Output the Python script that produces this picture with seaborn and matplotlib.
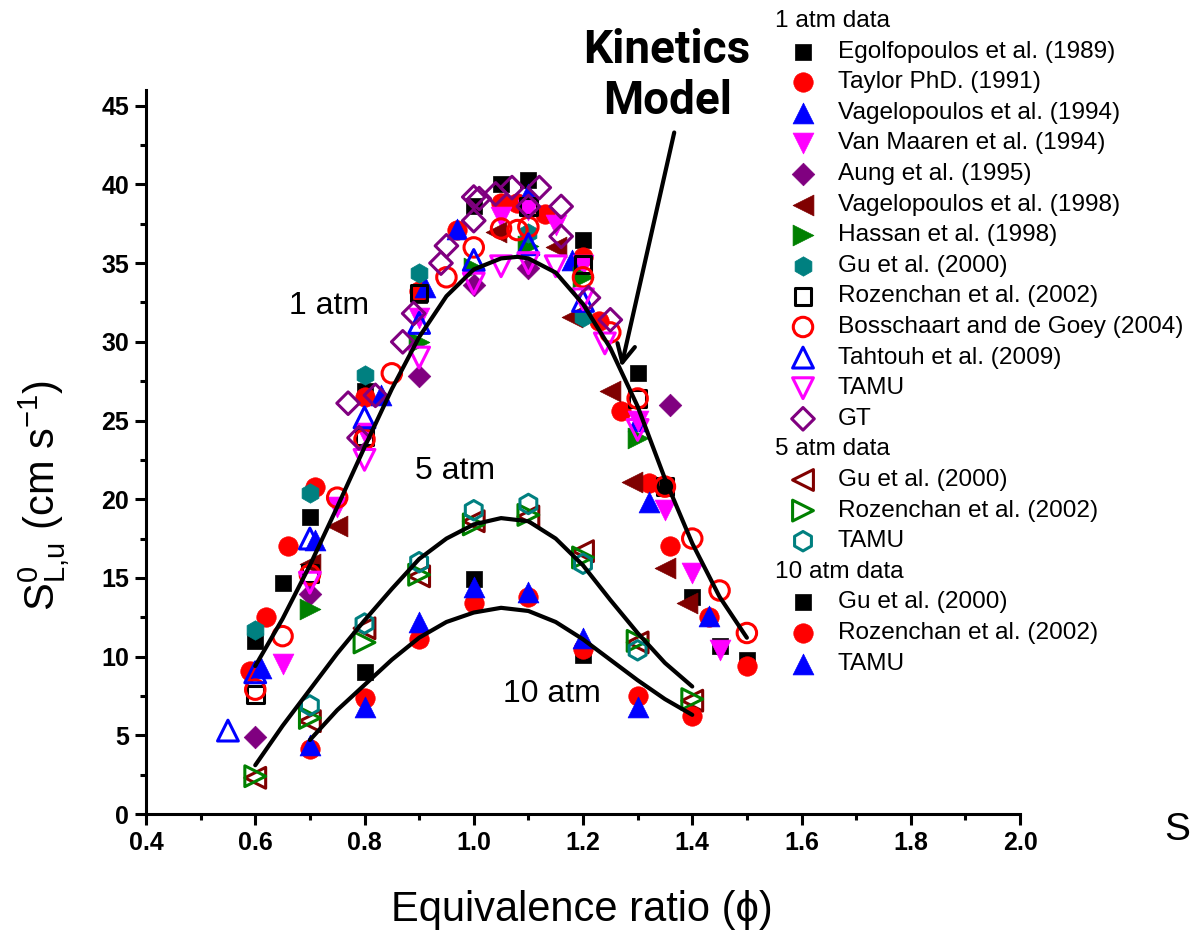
import numpy as np
import pandas as pd
import seaborn as sns
import matplotlib.pyplot as plt
from matplotlib.ticker import MultipleLocator

# ---------------- 1 atm data ----------------
egolf_x = [0.6, 0.65, 0.7, 0.8, 0.9, 1.0, 1.05, 1.1, 1.2, 1.3, 1.35, 1.4, 1.45, 1.5]
egolf_y = [11.0, 14.7, 18.9, 26.9, 33.0, 38.6, 40.0, 40.3, 36.5, 28.0, 20.8, 13.8, 10.7, 9.8]
taylor_x = [0.59, 0.62, 0.66, 0.71, 0.8, 0.9, 0.97, 1.05, 1.08, 1.13, 1.2, 1.23, 1.27, 1.32, 1.36, 1.43, 1.5]
taylor_y = [9.1, 12.5, 17.0, 20.8, 26.5, 33.2, 37.1, 38.8, 38.8, 38.1, 35.4, 31.3, 25.6, 21.0, 17.0, 12.5, 9.4]
vag94_x = [0.61, 0.71, 0.83, 0.91, 0.97, 1.1, 1.18, 1.3, 1.32, 1.43]
vag94_y = [9.3, 17.4, 26.6, 33.5, 37.2, 39.4, 35.2, 25.0, 19.8, 12.6]
vanmaaren_x = [0.65, 0.75, 0.8, 0.9, 1.05, 1.1, 1.15, 1.2, 1.3, 1.35, 1.4, 1.45]
vanmaaren_y = [9.5, 19.5, 24.2, 31.5, 37.9, 38.4, 37.4, 34.9, 25.0, 19.3, 15.3, 10.4]
aung_x = [0.6, 0.7, 0.9, 1.0, 1.1, 1.36]
aung_y = [4.9, 14.0, 27.8, 33.6, 34.7, 26.0]
vag98_x = [0.7, 0.75, 1.04, 1.15, 1.18, 1.25, 1.29, 1.35, 1.39]
vag98_y = [15.9, 18.3, 37.0, 36.0, 31.6, 26.9, 21.1, 15.6, 13.4]
hassan_x = [0.7, 0.9, 1.0, 1.1, 1.2, 1.3]
hassan_y = [13.0, 30.0, 34.7, 36.1, 34.1, 23.9]
gu1_x = [0.6, 0.7, 0.8, 0.9, 1.1, 1.2]
gu1_y = [11.7, 20.4, 27.9, 34.4, 36.9, 31.6]
rozen1_x = [0.6, 0.7, 0.8, 0.9, 1.1, 1.2, 1.3, 1.35]
rozen1_y = [7.6, 15.3, 24.0, 33.1, 38.6, 34.9, 26.4, 20.8]
bossch_x = [0.6, 0.65, 0.7, 0.75, 0.8, 0.85, 0.95, 1.0, 1.05, 1.08, 1.1, 1.2, 1.25, 1.3, 1.35, 1.4, 1.45, 1.5]
bossch_y = [7.9, 11.3, 15.2, 20.1, 23.8, 28.0, 34.1, 36.0, 37.2, 37.1, 37.3, 34.1, 30.6, 26.4, 20.8, 17.5, 14.2, 11.5]
tahtouh_x = [0.55, 0.6, 0.7, 0.8, 0.9, 1.0, 1.1, 1.2]
tahtouh_y = [5.3, 9.0, 17.5, 25.2, 31.2, 35.2, 36.2, 32.6]
tamu1_x = [0.7, 0.8, 0.9, 1.0, 1.05, 1.1, 1.15, 1.2, 1.24, 1.3]
tamu1_y = [14.7, 22.5, 29.0, 33.7, 34.8, 35.0, 34.8, 32.7, 29.9, 24.4]
gt_x = [0.77, 0.79, 0.82, 0.87, 0.89, 0.94, 0.95, 1.0, 1.0, 1.01, 1.04, 1.07, 1.1, 1.12, 1.16, 1.16, 1.21, 1.25]
gt_y = [26.1, 23.9, 26.6, 30.0, 31.8, 35.0, 36.1, 37.7, 39.2, 39.1, 39.4, 39.8, 38.6, 39.8, 38.6, 36.7, 32.8, 31.4]

# ---------------- 5 atm data ----------------
phi5 = [0.6, 0.7, 0.8, 0.9, 1.0, 1.1, 1.2, 1.3, 1.4]
gu5_y = [2.3, 5.9, 11.8, 15.1, 18.6, 18.9, 16.7, 10.9, 7.2]
rozen5_y = [2.4, 6.1, 10.9, 15.2, 18.4, 19.0, 16.3, 11.0, 7.3]
tamu5_x = [0.7, 0.8, 0.9, 1.0, 1.1, 1.2, 1.3]
tamu5_y = [6.9, 12.1, 16.0, 19.3, 19.7, 15.9, 10.4]

# ---------------- 10 atm data ----------------
gu10_x = [0.8, 1.0, 1.2]
gu10_y = [9.0, 14.9, 10.1]
rozen10_x = [0.7, 0.8, 0.9, 1.0, 1.1, 1.2, 1.3, 1.4]
rozen10_y = [4.1, 7.4, 11.1, 13.4, 13.8, 10.5, 7.5, 6.2]
tamu10_x = [0.7, 0.8, 0.9, 1.0, 1.1, 1.2, 1.3]
tamu10_y = [4.4, 6.8, 12.2, 14.4, 14.1, 11.2, 6.8]

# ---------------- kinetics model ----------------
model1_x = [0.6, 0.65, 0.7, 0.75, 0.8, 0.85, 0.9, 0.95, 1.0, 1.05, 1.08, 1.1, 1.15, 1.2, 1.25, 1.3, 1.35, 1.4, 1.45, 1.5]
model1_y = [9.4, 12.4, 15.8, 19.5, 23.3, 27.0, 30.3, 32.9, 34.6, 35.3, 35.4, 35.3, 34.4, 32.4, 29.6, 25.9, 21.3, 17.2, 13.8, 11.2]
model5_x = [0.6, 0.65, 0.7, 0.75, 0.8, 0.85, 0.9, 0.95, 1.0, 1.05, 1.1, 1.15, 1.2, 1.25, 1.3, 1.35, 1.4]
model5_y = [3.1, 5.6, 7.9, 10.2, 12.3, 14.3, 16.2, 17.5, 18.4, 18.8, 18.6, 17.5, 15.8, 13.6, 11.5, 9.6, 8.1]
model10_x = [0.7, 0.75, 0.8, 0.85, 0.9, 0.95, 1.0, 1.05, 1.1, 1.15, 1.2, 1.25, 1.3, 1.35, 1.4]
model10_y = [4.7, 6.6, 8.2, 9.8, 11.2, 12.2, 12.8, 13.1, 12.9, 12.2, 11.1, 9.8, 8.5, 7.3, 6.3]

groups = [
    ("1 atm data", [
        ("Egolfopoulos et al. (1989)", egolf_x, egolf_y, "s", "black", True),
        ("Taylor PhD. (1991)", taylor_x, taylor_y, "o", "#ff0000", True),
        ("Vagelopoulos et al. (1994)", vag94_x, vag94_y, "^", "#0000ff", True),
        ("Van Maaren et al. (1994)", vanmaaren_x, vanmaaren_y, "v", "#ff00ff", True),
        ("Aung et al. (1995)", aung_x, aung_y, "D", "#800080", True),
        ("Vagelopoulos et al. (1998)", vag98_x, vag98_y, "<", "#800000", True),
        ("Hassan et al. (1998)", hassan_x, hassan_y, ">", "#008000", True),
        ("Gu et al. (2000)", gu1_x, gu1_y, "h", "#008080", True),
        ("Rozenchan et al. (2002)", rozen1_x, rozen1_y, "s", "black", False),
        ("Bosschaart and de Goey (2004)", bossch_x, bossch_y, "o", "#ff0000", False),
        ("Tahtouh et al. (2009)", tahtouh_x, tahtouh_y, "^", "#0000ff", False),
        ("TAMU", tamu1_x, tamu1_y, "v", "#ff00ff", False),
        ("GT", gt_x, gt_y, "D", "#800080", False),
    ]),
    ("5 atm data", [
        ("Gu et al. (2000)", phi5, gu5_y, "<", "#800000", False),
        ("Rozenchan et al. (2002)", phi5, rozen5_y, ">", "#008000", False),
        ("TAMU", tamu5_x, tamu5_y, "h", "#008080", False),
    ]),
    ("10 atm data", [
        ("Gu et al. (2000)", gu10_x, gu10_y, "s", "black", True),
        ("Rozenchan et al. (2002)", rozen10_x, rozen10_y, "o", "#ff0000", True),
        ("TAMU", tamu10_x, tamu10_y, "^", "#0000ff", True),
    ]),
]

msize = {"s": 12, "o": 14, "^": 15, "v": 15, "<": 15, ">": 15, "D": 11.5, "h": 14}

sns.set_style("ticks")
plt.rcParams["font.family"] = ["Liberation Sans", "DejaVu Sans"]
plt.rcParams["mathtext.default"] = "regular"
for key in ["text.color", "axes.labelcolor", "xtick.color", "ytick.color", "axes.edgecolor"]:
    plt.rcParams[key] = "black"


def draw(axis, x, y, marker, color, filled):
    s = msize[marker] ** 2
    if filled:
        sns.scatterplot(x=x, y=y, ax=axis, marker=marker, s=s, color=color,
                        edgecolor=color, linewidth=0.5, clip_on=False)
    else:
        sns.scatterplot(x=x, y=y, ax=axis, marker=marker, s=s, facecolors="none",
                        edgecolor=color, linewidth=2.2, clip_on=False)


W, H = 1190, 934
fig = plt.figure(figsize=(11.9, 9.34), dpi=100)
ax = fig.add_axes([146 / W, 1 - 814 / H, (1020 - 146) / W, (814 - 90) / H])

for header, items in groups:
    for label, x, y, marker, color, filled in items:
        draw(ax, x, y, marker, color, filled)

for mx, my in [(model1_x, model1_y), (model5_x, model5_y), (model10_x, model10_y)]:
    sns.lineplot(x=mx, y=my, ax=ax, color="black", linewidth=3, zorder=10)

ax.set_xlim(0.4, 2.0)
ax.set_ylim(0, 46)
ax.xaxis.set_major_locator(MultipleLocator(0.2))
ax.xaxis.set_minor_locator(MultipleLocator(0.1))
ax.yaxis.set_major_locator(MultipleLocator(5))
ax.yaxis.set_minor_locator(MultipleLocator(2.5))
ax.set_xticklabels([f"{v:.1f}" for v in ax.get_xticks()])
sns.despine(ax=ax)
for sp in ["left", "bottom"]:
    ax.spines[sp].set_linewidth(2.2)
ax.tick_params(which="major", length=8, width=2.2, labelsize=18, pad=4)
ax.tick_params(which="minor", length=4.5, width=2.2)
for t in ax.get_xticklabels() + ax.get_yticklabels():
    t.set_fontweight("bold")

ax.set_xlabel("Equivalence ratio (\u03d5)", fontsize=30)
ax.xaxis.set_label_coords(0.499, -0.105)
ax.set_ylabel(r"$S^{0}_{L{,}u}$ (cm s$^{-1}$)", fontsize=30)
ax.yaxis.set_label_coords(-0.085, 0.44)

ax.text(0.736, 32.3, "1 atm", fontsize=23, ha="center", va="center")
ax.text(0.965, 21.8, "5 atm", fontsize=23, ha="center", va="center")
ax.text(1.144, 7.6, "10 atm", fontsize=23, ha="center", va="center")

ax.text(1.354, 46.95, "Kinetics\nModel", fontsize=33, fontweight="bold",
        family=["Roboto", "DejaVu Sans"], ha="center", va="center",
        linespacing=1.2, clip_on=False)
ax.annotate("", xy=(1.27, 28.4), xytext=(1.367, 43.3), annotation_clip=False,
            arrowprops=dict(arrowstyle="->", lw=3, color="black", mutation_scale=32,
                            shrinkA=0, shrinkB=0))

# legend drawn in pixel space on an overlay axes
lax = fig.add_axes([0, 0, 1, 1])
lax.set_xlim(0, W)
lax.set_ylim(H, 0)
lax.axis("off")
row = 0
for header, items in groups:
    ry = 21 + row * 30.6
    lax.text(775, ry, header, fontsize=17.6, ha="left", va="center")
    row += 1
    for label, x, y, marker, color, filled in items:
        ry = 21 + row * 30.6
        draw(lax, [803], [ry], marker, color, filled)
        lax.text(838, ry, label, fontsize=17.6, ha="left", va="center")
        row += 1

lax.text(1164, 830, "S", fontsize=28, ha="left", va="center")

fig.savefig("out.png", dpi=100)
